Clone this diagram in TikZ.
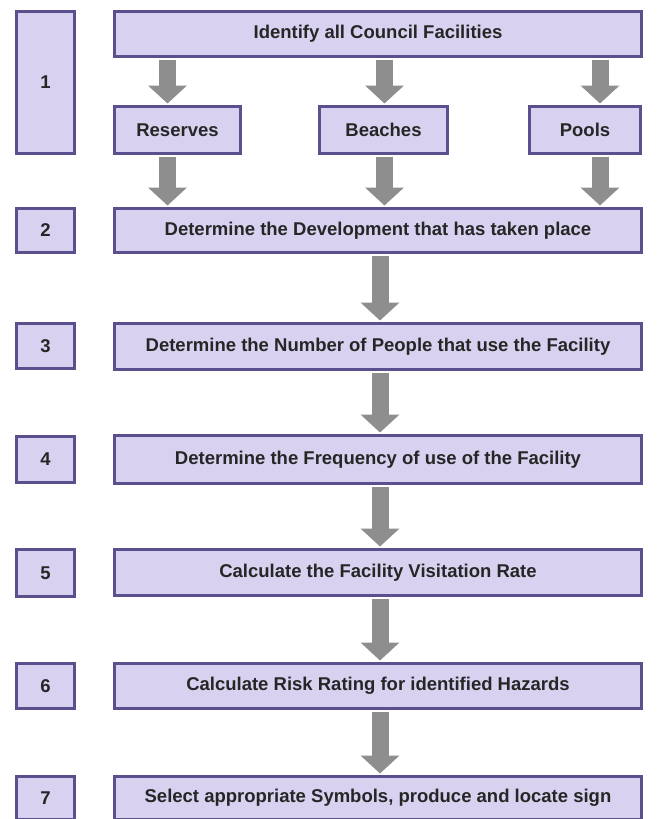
\documentclass[tikz,border=0pt]{standalone}
\usepackage{fontspec}
\setmainfont{Liberation Sans}
\usetikzlibrary{arrows.meta,positioning}
\definecolor{boxfill}{HTML}{D8D1F0}
\definecolor{boxline}{HTML}{5C4F8E}
\definecolor{arrowgray}{HTML}{8E8E8E}
\tikzset{
  stepbox/.style={draw=boxline, line width=3pt, fill=boxfill, inner sep=0pt,
    anchor=north west, font=\bfseries\fontsize{18.5}{20}\selectfont, text=black!85},
  fat/.style={draw=arrowgray, line width=17pt,
    -{Triangle[width=38pt,length=18pt]}},
}
\begin{document}
\begin{tikzpicture}[x=1pt,y=-1pt]
\useasboundingbox (0,0) rectangle (657,819);
% step numbers
\node[stepbox, minimum width=58pt, minimum height=142pt] (n1) at (15,10) {1};
\node[stepbox, minimum width=58pt, minimum height=44pt] (n2) at (15,207) {2};
\node[stepbox, minimum width=58pt, minimum height=45pt] (n3) at (15,322) {3};
\node[stepbox, minimum width=58pt, minimum height=46pt] (n4) at (15,435) {4};
\node[stepbox, minimum width=58pt, minimum height=47pt] (n5) at (15,548) {5};
\node[stepbox, minimum width=58pt, minimum height=45pt] (n6) at (15,662) {6};
\node[stepbox, minimum width=58pt, minimum height=43pt] (n7) at (15,775) {7};
% process steps
\node[stepbox, minimum width=527pt, minimum height=45pt] (top) at (113,10) {Identify all Council Facilities};
\node[stepbox, minimum width=126pt, minimum height=47pt] (res) at (113,105) {Reserves};
\node[stepbox, minimum width=128pt, minimum height=47pt] (bea) at (318,105) {Beaches};
\node[stepbox, minimum width=111pt, minimum height=47pt] (poo) at (528,105) {Pools};
\node[stepbox, minimum width=527pt, minimum height=44pt] (s2) at (113,207) {Determine the Development that has taken place};
\node[stepbox, minimum width=527pt, minimum height=46pt] (s3) at (113,322) {Determine the Number of People that use the Facility};
\node[stepbox, minimum width=527pt, minimum height=48pt] (s4) at (113,434) {Determine the Frequency of use of the Facility};
\node[stepbox, minimum width=527pt, minimum height=46pt] (s5) at (113,548) {Calculate the Facility Visitation Rate};
\node[stepbox, minimum width=527pt, minimum height=45pt] (s6) at (113,662) {Calculate Risk Rating for identified Hazards};
\node[stepbox, minimum width=527pt, minimum height=43pt] (s7) at (113,775) {Select appropriate Symbols, produce and locate sign};
% block arrows
\draw[fat] ([xshift=-10pt]res.north |- top.south) ++(0,1.5) -- ([xshift=-10pt,yshift=1.5pt]res.north);
\draw[fat] ([xshift=1pt]bea.north |- top.south) ++(0,1.5) -- ([xshift=1pt,yshift=1.5pt]bea.north);
\draw[fat] ([xshift=15pt]poo.north |- top.south) ++(0,1.5) -- ([xshift=15pt,yshift=1.5pt]poo.north);
\draw[fat] ([xshift=-10pt,yshift=-1.5pt]res.south) -- ([xshift=-10pt,yshift=1.5pt]res.south |- s2.north);
\draw[fat] ([xshift=1pt,yshift=-1.5pt]bea.south) -- ([xshift=1pt,yshift=1.5pt]bea.south |- s2.north);
\draw[fat] ([xshift=15pt,yshift=-1.5pt]poo.south) -- ([xshift=15pt,yshift=1.5pt]poo.south |- s2.north);
\draw[fat] ([xshift=2pt,yshift=-1.5pt]s2.south) -- ([xshift=2pt,yshift=1.5pt]s3.north);
\draw[fat] ([xshift=2pt,yshift=-1.5pt]s3.south) -- ([xshift=2pt,yshift=1.5pt]s4.north);
\draw[fat] ([xshift=2pt,yshift=-1.5pt]s4.south) -- ([xshift=2pt,yshift=1.5pt]s5.north);
\draw[fat] ([xshift=2pt,yshift=-1.5pt]s5.south) -- ([xshift=2pt,yshift=1.5pt]s6.north);
\draw[fat] ([xshift=2pt,yshift=-1.5pt]s6.south) -- ([xshift=2pt,yshift=1.5pt]s7.north);
\end{tikzpicture}
\end{document}
